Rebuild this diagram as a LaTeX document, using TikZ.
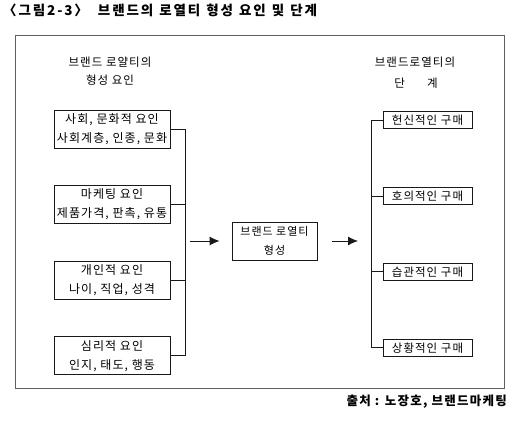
\documentclass[tikz,border=0pt]{standalone}
\usepackage{fontspec}
\setmainfont[LetterSpace=9]{Noto Sans CJK KR}
\usetikzlibrary{
  arrows.meta,
  positioning
}
\definecolor{FrameGray}{RGB}{95,95,95}
\definecolor{InkBlack}{RGB}{25,25,25}
\tikzset{
  factornode/.style={draw=InkBlack,line width=0.9pt,minimum width=116pt,minimum height=38pt,inner sep=0pt,align=center,font=\fontsize{12}{19}\selectfont},
  corenode/.style={draw=InkBlack,line width=0.9pt,minimum width=85pt,minimum height=38pt,inner sep=0pt,align=center,font=\fontsize{11}{19}\selectfont},
  stagenode/.style={draw=InkBlack,line width=0.9pt,minimum width=89pt,minimum height=17pt,inner sep=0pt,font=\fontsize{11.5}{14}\selectfont},
  headnode/.style={inner sep=0pt,font=\fontsize{11.5}{14}\selectfont},
  busline/.style={line width=0.7pt,draw=InkBlack},
  flowarrow/.style={-{Latex[length=10pt,width=9pt]},line width=0.9pt,draw=InkBlack}
}

\begin{document}
\begin{tikzpicture}[x=1pt,y=1pt,node distance=36.7pt]
\useasboundingbox (0,0) rectangle (510,420);

% Title and outer frame.
\node[anchor=west,inner sep=0pt,font=\fontsize{13.5}{16}\selectfont\bfseries\addfontfeature{LetterSpace=14}] (title) at (3,410) {〈그림2-3〉\hspace{10pt}브랜드의\hspace{6pt}로열티\hspace{6pt}형성\hspace{6pt}요인\hspace{6pt}및\hspace{6pt}단계};
\draw[FrameGray,line width=1pt] (15,384) rectangle (504,32);

% Left side: formation factors.
\node[headnode] (lhead1) at (110,358) {브랜드 로얄티의};
\node[headnode] (lhead2) at (110,340) {형성 요인};
\node[factornode] (f1) at (112,291) {사회, 문화적 요인\\사회계층, 인종, 문화};
\node[factornode, below=of f1] (f2) {마케팅 요인\\제품가격, 판촉, 유통};
\node[factornode, below=of f2] (f3) {개인적 요인\\나이, 직업, 성격};
\node[factornode, below=of f3] (f4) {심리적 요인\\인지, 태도, 행동};
\coordinate (lbus) at (185,179);
\foreach \f in {f1,f2,f3,f4}
  \draw[busline] (\f.east) -- (\f.east -| lbus);
\draw[busline] (f1.east -| lbus) -- (f4.east -| lbus);

% Center: loyalty formation.
\node[corenode] (core) at (274.5,179) {브랜드 로열티\\형성};
\draw[flowarrow,shorten <=5pt,shorten >=12pt] (lbus) -- (core.west);

% Right side: loyalty stages.
\node[headnode] (rhead1) at (415,358) {브랜드로열티의};
\node[headnode] (rhead2) at (416,337) {단\hspace{22pt}계};
\node[stagenode] (s1) at (427.5,300) {헌신적인 구매};
\node[stagenode, below=58pt of s1] (s2) {호의적인 구매};
\node[stagenode, below=58pt of s2] (s3) {습관적인 구매};
\node[stagenode, below=58pt of s3] (s4) {상황적인 구매};
\coordinate (rbus) at (371,179);
\foreach \s in {s1,s2,s3,s4}
  \draw[busline] (\s.west) -- (\s.west -| rbus);
\draw[busline] (s1.west -| rbus) -- (s4.west -| rbus);
\draw[flowarrow,shorten <=15pt,shorten >=13pt] (core.east) -- (rbus);

% Source line.
\node[anchor=east,inner sep=0pt,font=\fontsize{12.5}{15}\selectfont\bfseries\addfontfeature{LetterSpace=10}] (source) at (507,18) {출처 : 노장호, 브랜드마케팅};
\end{tikzpicture}
\end{document}
